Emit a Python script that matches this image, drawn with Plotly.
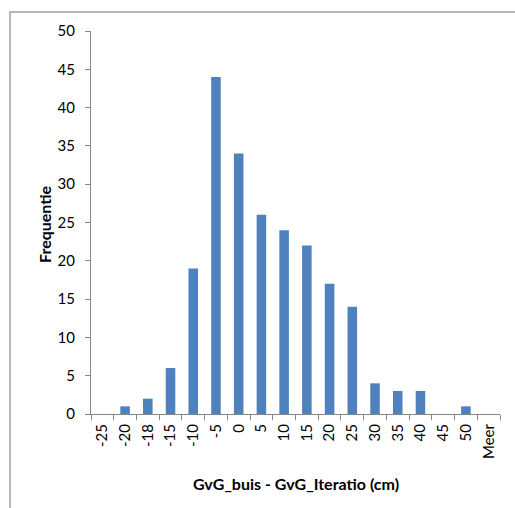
import plotly.graph_objects as go

# Histogram bins (upper bin edges) and counts
bins = ["-25", "-20", "-18", "-15", "-10", "-5", "0", "5", "10", "15",
        "20", "25", "30", "35", "40", "45", "50", "Meer"]
counts = [0, 1, 2, 6, 19, 44, 34, 26, 24, 22, 17, 14, 4, 3, 3, 0, 1, 0]

W, H = 515, 508
L, R, T, B = 91, 15, 31, 94
pw, ph = W - L - R, H - T - B


def px_x(x):
    return (x - L) / pw


def px_y(y):
    return (H - B - y) / ph


axis_col = "#868686"
font_fam = "Lato, 'Open Sans', sans-serif"

fig = go.Figure(go.Bar(x=bins, y=counts, marker_color="#4F81BD",
                       marker_line_width=0))

fig.update_layout(
    width=W, height=H,
    margin=dict(l=L, r=R, t=T, b=B),
    paper_bgcolor="white", plot_bgcolor="white",
    bargap=0.58,
    showlegend=False,
    font=dict(family=font_fam, size=15, color="#000000"),
    xaxis=dict(type="category", tickangle=-90, ticks="outside",
               tickson="boundaries", ticklen=5, tickcolor=axis_col,
               showline=True, linecolor=axis_col, linewidth=1,
               showgrid=False, tickfont=dict(size=15),
               ticklabelstandoff=3),
    yaxis=dict(range=[0, 50], dtick=5, ticks="outside", ticklen=5,
               tickcolor=axis_col, showline=True, linecolor=axis_col,
               linewidth=1, showgrid=False, zeroline=False,
               tickfont=dict(size=15), ticklabelstandoff=7),
)

# Axis titles
fig.add_annotation(text="<b>GvG_buis - GvG_Iteratio (cm)</b>",
                   xref="paper", yref="paper", x=px_x(296), y=px_y(483),
                   xanchor="center", yanchor="middle",
                   showarrow=False, font=dict(size=16))
fig.add_annotation(text="<b>Frequentie</b>", textangle=-90,
                   xref="paper", yref="paper", x=px_x(44), y=px_y(224),
                   xanchor="center", yanchor="middle",
                   showarrow=False, font=dict(size=16))

# Chart-area frame (left and top edges)
fig.add_shape(type="rect", xref="paper", yref="paper",
              x0=px_x(10), x1=px_x(W + 20), y0=px_y(H + 20), y1=px_y(12),
              line=dict(color="#A0A0A0", width=1.5), layer="below")

fig.write_html("out.html")
